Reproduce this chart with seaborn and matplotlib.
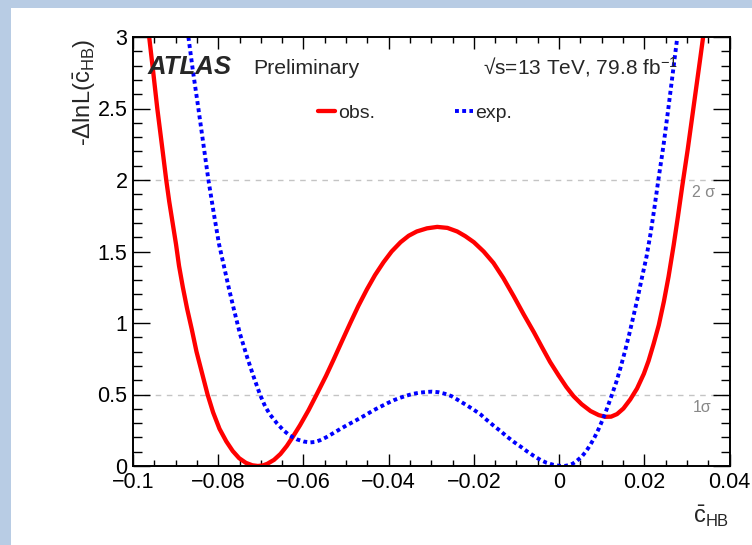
import numpy as np
import pandas as pd
import matplotlib
matplotlib.use("Agg")
import matplotlib.pyplot as plt
import seaborn as sns
from matplotlib.patches import Rectangle
from matplotlib.ticker import MultipleLocator, FuncFormatter

obs_x = [-0.0962, -0.0952, -0.0943, -0.0932, -0.0922, -0.0915, -0.0907, -0.0899,
         -0.0892, -0.0883, -0.0873, -0.0862, -0.0851, -0.0838, -0.0825, -0.0812,
         -0.0797, -0.0781, -0.0766, -0.0751, -0.0735, -0.0720, -0.0707, -0.0695,
         -0.0685, -0.0669, -0.0654, -0.0639, -0.0627, -0.0608, -0.0588, -0.0569,
         -0.0547, -0.0529, -0.0510, -0.0490, -0.0471, -0.0451, -0.0432, -0.0412,
         -0.0393, -0.0372, -0.0353, -0.0334, -0.0310, -0.0286, -0.0262, -0.0239,
         -0.0220, -0.0200, -0.0177, -0.0154, -0.0131, -0.0106, -0.0083, -0.0059,
         -0.0040, -0.0021, -0.0001, 0.0017, 0.0034, 0.0053, 0.0074, 0.0093,
         0.0108, 0.0122, 0.0136, 0.0151, 0.0167, 0.0183, 0.0199, 0.0210,
         0.0222, 0.0234, 0.0246, 0.0257, 0.0269, 0.0279, 0.0289, 0.0302,
         0.0317, 0.0332, 0.0339]
obs_y = [3.00, 2.74, 2.50, 2.24, 2.00, 1.85, 1.70, 1.55,
         1.40, 1.25, 1.10, 0.955, 0.80, 0.65, 0.50, 0.375,
         0.26, 0.172, 0.105, 0.055, 0.022, 0.005, 0.0, 0.004,
         0.015, 0.043, 0.084, 0.14, 0.194, 0.285, 0.39, 0.50,
         0.63, 0.745, 0.87, 1.00, 1.12, 1.235, 1.335, 1.425,
         1.50, 1.565, 1.61, 1.64, 1.662, 1.672, 1.665, 1.64,
         1.607, 1.565, 1.50, 1.42, 1.315, 1.185, 1.06, 0.935,
         0.83, 0.727, 0.633, 0.553, 0.488, 0.432, 0.384, 0.356,
         0.344, 0.345, 0.363, 0.402, 0.465, 0.542, 0.645, 0.735,
         0.855, 0.985, 1.15, 1.325, 1.545, 1.745, 1.955, 2.215,
         2.54, 2.865, 3.02]

# expected curve
exp_x = [-0.0870, -0.0859, -0.0847, -0.0835, -0.0823, -0.0810, -0.0798, -0.0783,
         -0.0774, -0.0764, -0.0749, -0.0732, -0.0717, -0.0702, -0.0690, -0.0679,
         -0.0662, -0.0647, -0.0632, -0.0616, -0.0599, -0.0584, -0.0573, -0.0561,
         -0.0547, -0.0532, -0.0514, -0.0497, -0.0481, -0.0467, -0.0451, -0.0436,
         -0.0419, -0.0403, -0.0388, -0.0372, -0.0357, -0.0342, -0.0327, -0.0310,
         -0.0298, -0.0283, -0.0268, -0.0252, -0.0232, -0.0217, -0.0201, -0.0184,
         -0.0169, -0.0154, -0.0137, -0.0122, -0.0106, -0.0090, -0.0075, -0.0059,
         -0.0044, -0.0029, -0.0013, 0.0002, 0.0012, 0.0022, 0.0032, 0.0042,
         0.0053, 0.0063, 0.0073, 0.0083, 0.0093, 0.0103, 0.0113, 0.0123,
         0.0134, 0.0144, 0.0154, 0.0164, 0.0174, 0.0184, 0.0194, 0.0205,
         0.0215, 0.0224, 0.0233, 0.0245, 0.0256, 0.0267, 0.0278]
exp_y = [3.00, 2.755, 2.51, 2.255, 2.00, 1.76, 1.55, 1.35,
         1.23, 1.105, 0.925, 0.76, 0.625, 0.50, 0.418, 0.362,
         0.298, 0.25, 0.213, 0.187, 0.171, 0.165, 0.168, 0.180,
         0.200, 0.226, 0.258, 0.287, 0.312, 0.335, 0.362, 0.389,
         0.415, 0.439, 0.46, 0.478, 0.493, 0.505, 0.513, 0.518,
         0.52, 0.516, 0.505, 0.488, 0.452, 0.425, 0.395, 0.36,
         0.32, 0.283, 0.243, 0.205, 0.168, 0.135, 0.102, 0.07,
         0.043, 0.022, 0.008, 0.001, 0.0, 0.005, 0.016, 0.037,
         0.065, 0.101, 0.146, 0.199, 0.26, 0.329, 0.406, 0.49,
         0.584, 0.685, 0.795, 0.913, 1.04, 1.17, 1.31, 1.46,
         1.63, 1.81, 2.00, 2.24, 2.49, 2.75, 3.01]

sigma_levels = [0.5, 2.0]
sigma_labels = ["1\u03c3", "2 \u03c3"]

sns.set_theme(style="ticks")
plt.rcParams["font.family"] = ["Liberation Sans", "DejaVu Sans"]
plt.rcParams["mathtext.fontset"] = "custom"
plt.rcParams["mathtext.rm"] = "Liberation Sans"
plt.rcParams["mathtext.it"] = "Liberation Sans:italic"
plt.rcParams["axes.unicode_minus"] = True

fig = plt.figure(figsize=(7.52, 5.45), dpi=100, facecolor="#b8cce4")
fig.add_artist(Rectangle((11 / 752, 0), 1, 1 - 8 / 545, transform=fig.transFigure,
                         facecolor="white", edgecolor="none", zorder=0))
ax = fig.add_axes([133 / 752, 1 - 466 / 545, 596.5 / 752, 429 / 545])
ax.set_facecolor("white")

obs = pd.DataFrame({"x": obs_x, "y": obs_y})
exp = pd.DataFrame({"x": exp_x, "y": exp_y})

sns.lineplot(data=obs, x="x", y="y", ax=ax, color="#ff0000", lw=3.1,
             estimator=None, sort=False, label="obs.")
sns.lineplot(data=exp, x="x", y="y", ax=ax, color="#0000ff", lw=2.8,
             estimator=None, sort=False, label="exp.")
ax.lines[0].set_solid_joinstyle("round")
ax.lines[1].set_linestyle((0, (1, 0.85)))
ax.lines[1].set_dash_capstyle("butt")

for lvl, lab in zip(sigma_levels, sigma_labels):
    ax.axhline(lvl, color="#c4c4c4", lw=1.0, ls=(0, (4, 4)), zorder=0)
    ax.text(0.0313, lvl - 0.09, lab, color="#888888", fontsize=11.5,
            ha="left", va="center")

ax.set_xlim(-0.1, 0.04)
ax.set_ylim(0, 3)

fmt = FuncFormatter(lambda v, p: f"{round(v, 3) + 0.0:g}".replace("-", "\u2212"))
ax.xaxis.set_major_locator(MultipleLocator(0.02))
ax.xaxis.set_minor_locator(MultipleLocator(0.005))
ax.yaxis.set_major_locator(MultipleLocator(0.5))
ax.yaxis.set_minor_locator(MultipleLocator(0.1))
ax.xaxis.set_major_formatter(fmt)
ax.yaxis.set_major_formatter(fmt)

ax.tick_params(axis="both", which="both", direction="in", top=True, right=True,
               colors="black", labelsize=15.5, width=1.0)
ax.tick_params(axis="x", which="major", length=8.5, pad=4)
ax.tick_params(axis="x", which="minor", length=4.3)
ax.tick_params(axis="y", which="major", length=12.5, pad=4)
ax.tick_params(axis="y", which="minor", length=6.5)
for sp in ax.spines.values():
    sp.set_linewidth(1.4)
    sp.set_color("black")

ax.set_ylabel(r"-$\Delta$lnL($\bar{\mathrm{c}}_{\mathrm{HB}}$)", fontsize=17, loc="top")
ax.yaxis.set_label_coords(-0.058, 0.995)
ax.set_xlabel(r"$\bar{\mathrm{c}}_{\mathrm{HB}}$", fontsize=17, loc="right")
ax.xaxis.set_label_coords(1.0, -0.088)

ax.text(0.025, 0.914, "ATLAS", transform=ax.transAxes, fontsize=18.5,
        fontweight="bold", fontstyle="italic", va="baseline")
ax.text(0.201, 0.914, "Preliminary", transform=ax.transAxes, fontsize=15.3,
        va="baseline")
ax.text(0.587, 0.914, "\u221as=13 TeV, 79.8 fb$^{-1}$", transform=ax.transAxes,
        fontsize=15, va="baseline")

ax.legend(loc="center left", bbox_to_anchor=(0.310, 0.823), ncol=2, frameon=False,
          fontsize=14, handlelength=0.9, handletextpad=0.15, columnspacing=4.1,
          borderpad=0, borderaxespad=0)

fig.savefig("out.png", dpi=100, facecolor=fig.get_facecolor())
